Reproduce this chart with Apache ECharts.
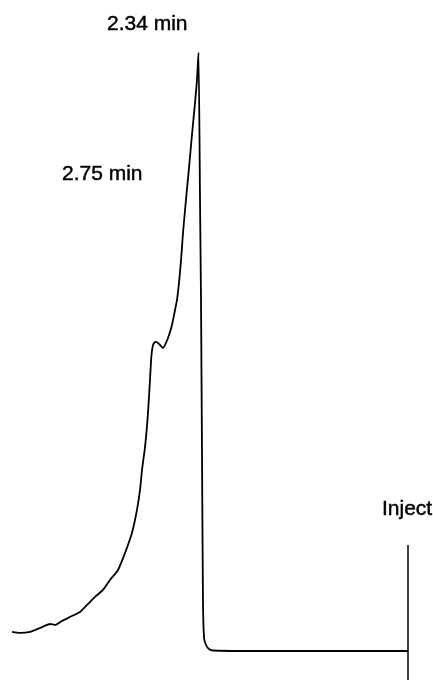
<!DOCTYPE html>
<html>
<head>
<meta charset="utf-8">
<style>
html,body{margin:0;padding:0;background:#fff;}
#chart{width:433px;height:680px;}
</style>
<script src="https://cdn.jsdelivr.net/npm/echarts@6/dist/echarts.min.js"></script>
</head>
<body>
<div id="chart"></div>
<script>
// retention time (min) and detector signal (relative, apex = 100)
var timeMin = [4.423,4.334,4.222,4.110,3.999,3.943,3.865,3.776,3.664,3.574,3.496,3.407,3.329,3.239,3.161,3.083,3.027,2.993,2.971,2.937,2.904,2.882,2.865,2.848,2.826,2.792,2.770,2.737,2.703,2.669,2.636,2.602,2.580,2.558,2.535,2.513,2.480,2.446,2.413,2.379,2.357,2.340,2.323,2.312,2.301,2.290,2.278,2.256,2.223,2.178,1.765,0.871,0];
var signal  = [3.18,3.01,3.18,3.84,4.51,4.35,5.01,5.68,6.52,7.86,9.03,10.20,11.87,13.54,16.38,19.72,23.57,26.91,30.25,34.10,39.78,45.30,49.47,51.14,51.65,51.48,51.14,50.64,51.48,52.82,54.49,56.99,58.67,61.51,65.35,69.86,75.38,80.73,86.24,91.59,95.44,100,75.38,58.67,33.60,8.52,2.17,1.00,0.33,0.08,0,0,0];
var injectTime = [0, 0];
var injectSignal = [17.72, -4.85];
var peakLabels = ["2.34 min", "2.75 min"];
var injectLabel = "Inject";

var trace = timeMin.map(function(t, i){ return [t, signal[i]]; });
var inject = injectTime.map(function(t, i){ return [t, injectSignal[i]]; });

var chart = echarts.init(document.getElementById('chart'), null, {renderer:'canvas'});
var font = '"Liberation Sans", Arial, Helvetica, sans-serif';
function lbl(x, y, s){
  return {type: 'text', x: x, y: y, style: {text: s, font: '21px ' + font, fill: '#000', stroke: '#000', lineWidth: 0.45, verticalAlign: 'middle', align: 'left'}};
}
chart.setOption({
  animation: false,
  backgroundColor: '#ffffff',
  grid: {left: 0, right: 25, top: 0, bottom: 0, containLabel: false},
  xAxis: {type: 'value', inverse: true, min: 0, max: 4.557, show: false},
  yAxis: {type: 'value', min: -4.85, max: 108.8, show: false},
  series: [
    {type: 'line', data: trace, showSymbol: false, symbol: 'none', smooth: 0.2,
     lineStyle: {color: '#000000', width: 1.8}, clip: false},
    {type: 'line', data: inject, showSymbol: false, symbol: 'none',
     lineStyle: {color: '#000000', width: 1.5}, clip: false}
  ],
  graphic: [
    lbl(107, 24.5, peakLabels[0]),
    lbl(62, 174.5, peakLabels[1]),
    lbl(382, 509.5, injectLabel)
  ]
});
</script>
</body>
</html>
